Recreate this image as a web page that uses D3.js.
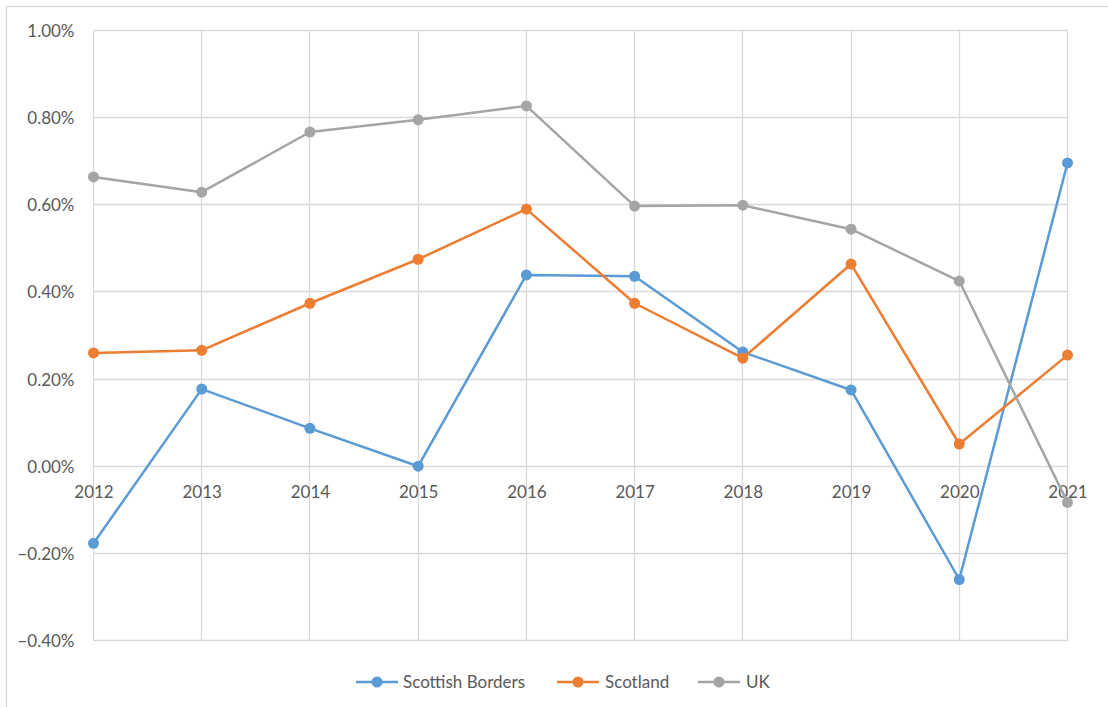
<!DOCTYPE html>
<html>
<head>
<meta charset="utf-8">
<script src="https://cdn.jsdelivr.net/npm/d3@7"></script>
<style>
  body { margin: 0; background: #fff; }
  text { font-family: Lato, "Open Sans", sans-serif; fill: #595959; }
</style>
</head>
<body>
<div id="chart"></div>
<script>
// DATA
const years = [2012, 2013, 2014, 2015, 2016, 2017, 2018, 2019, 2020, 2021];
const yTicks = [-0.004, -0.002, 0, 0.002, 0.004, 0.006, 0.008, 0.010];
const seriesNames = ["Scottish Borders", "Scotland", "UK"];
const seriesColors = ["#5b9bd5", "#ed7d31", "#a5a5a5"];
const bordersValues = [-0.00177, 0.00177, 0.00087, 0.00000, 0.00439, 0.00436, 0.00262, 0.00175, -0.00260, 0.00696];
const scotlandValues = [0.00260, 0.00266, 0.00374, 0.00475, 0.00590, 0.00374, 0.00248, 0.00464, 0.00051, 0.00255];
const ukValues = [0.00664, 0.00629, 0.00767, 0.00795, 0.00827, 0.00597, 0.00599, 0.00544, 0.00425, -0.00083];

const seriesValues = [bordersValues, scotlandValues, ukValues];

// DIMENSION
const width = 1108, height = 707;
const margin = {top: 30.5, right: 40.5, bottom: 66.5, left: 93.5};
const svgWidth = width - margin.left - margin.right;
const svgHeight = height - margin.top - margin.bottom;
const fontSize = 17;

const svg = d3.select('#chart')
    .append('svg')
        .attr('width', width)
        .attr('height', height);

// outer border
svg.append('rect')
    .attr('x', 6.5).attr('y', 6.5)
    .attr('width', 1200).attr('height', 800)
    .attr('fill', 'none')
    .attr('stroke', '#d9d9d9')
    .attr('stroke-width', 1.3);

const g = svg.append('g')
    .attr('transform', `translate(${margin.left},${margin.top})`);

// SCALES
const xScale = d3.scalePoint()
    .domain(years)
    .range([0, svgWidth]);

const yScale = d3.scaleLinear()
    .domain([-0.004, 0.010])
    .range([svgHeight, 0]);

// GRID
g.append('g')
    .selectAll('line')
    .data(yTicks)
    .join('line')
        .attr('x1', 0).attr('x2', svgWidth)
        .attr('y1', d => Math.round(yScale(d)))
        .attr('y2', d => Math.round(yScale(d)))
        .attr('stroke', '#d9d9d9')
        .attr('stroke-width', 1.3);

g.append('g')
    .selectAll('line')
    .data(years)
    .join('line')
        .attr('x1', d => Math.round(xScale(d))).attr('x2', d => Math.round(xScale(d)))
        .attr('y1', 0).attr('y2', svgHeight)
        .attr('stroke', '#d9d9d9')
        .attr('stroke-width', 1.3);

// Y AXIS LABELS
const yAxisG = g.append('g')
    .call(d3.axisLeft(yScale)
        .tickValues(yTicks)
        .tickFormat(d3.format('.2%'))
        .tickSize(0)
        .tickPadding(19));
yAxisG.select('.domain').remove();
yAxisG.selectAll('text')
    .attr('font-size', fontSize)
    .attr('font-family', 'Lato, "Open Sans", sans-serif')
    .attr('fill', '#595959')
    .attr('dy', '0.35em');

// X AXIS LABELS (sit below the zero line)
const xAxisG = g.append('g')
    .attr('transform', `translate(0, ${yScale(0)})`)
    .call(d3.axisBottom(xScale)
        .tickSize(0)
        .tickPadding(0));
xAxisG.select('.domain').remove();
xAxisG.selectAll('text')
    .attr('font-size', fontSize)
    .attr('font-family', 'Lato, "Open Sans", sans-serif')
    .attr('fill', '#595959')
    .attr('y', 26)
    .attr('dy', '0.35em');

// LINES
const line = d3.line()
    .x((d, i) => xScale(years[i]))
    .y(d => yScale(d));

seriesValues.forEach((vals, s) => {
    const sg = g.append('g');
    sg.append('path')
        .datum(vals)
        .attr('d', line)
        .attr('fill', 'none')
        .attr('stroke', seriesColors[s])
        .attr('stroke-width', 2.5)
        .attr('stroke-linejoin', 'round');
    sg.selectAll('circle')
        .data(vals)
        .join('circle')
            .attr('cx', (d, i) => xScale(years[i]))
            .attr('cy', d => yScale(d))
            .attr('r', 5.5)
            .attr('fill', seriesColors[s]);
});

// LEGEND
const legendItems = [
    {x: 356, textX: 403},
    {x: 557, textX: 605},
    {x: 698, textX: 746}
];
const legendY = 682;
const legend = svg.append('g');
seriesNames.forEach((name, s) => {
    const item = legend.append('g');
    const lx = legendItems[s].x;
    item.append('line')
        .attr('x1', lx).attr('x2', lx + 42)
        .attr('y1', legendY).attr('y2', legendY)
        .attr('stroke', seriesColors[s])
        .attr('stroke-width', 2.5);
    item.append('circle')
        .attr('cx', lx + 21).attr('cy', legendY)
        .attr('r', 5.5)
        .attr('fill', seriesColors[s]);
    item.append('text')
        .attr('x', legendItems[s].textX)
        .attr('y', legendY)
        .attr('dy', '0.35em')
        .attr('font-size', fontSize)
        .text(name);
});
</script>
</body>
</html>
